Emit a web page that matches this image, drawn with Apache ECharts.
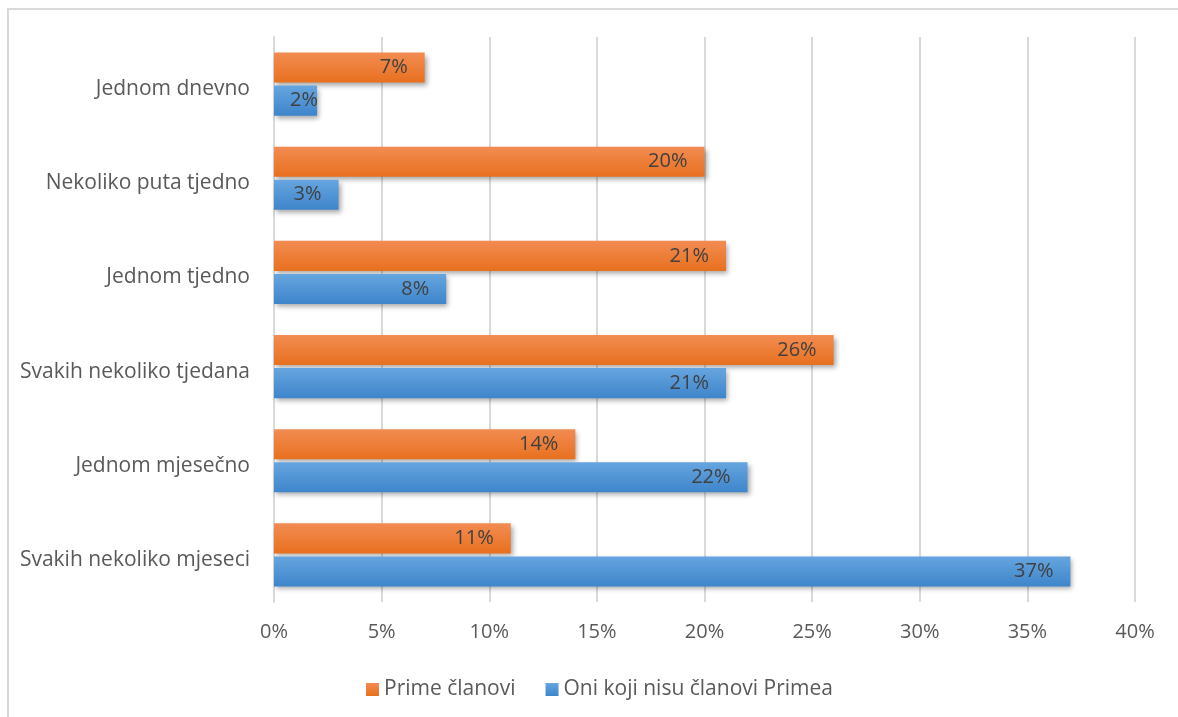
<!DOCTYPE html>
<html>
<head>
<meta charset="utf-8">
<script src="https://cdn.jsdelivr.net/npm/echarts@6/dist/echarts.min.js"></script>
<style>
html,body{margin:0;padding:0;background:#fff;}
#c{width:1178px;height:717px;}
</style>
</head>
<body>
<div id="c"></div>
<script>
const categories = ['Jednom dnevno','Nekoliko puta tjedno','Jednom tjedno','Svakih nekoliko tjedana','Jednom mjesečno','Svakih nekoliko mjeseci'];
const seriesNames = ['Prime članovi','Oni koji nisu članovi Primea'];
const primeValues = [7, 20, 21, 26, 14, 11];
const nonPrimeValues = [2, 3, 8, 21, 22, 37];
const xTicks = [0, 5, 10, 15, 20, 25, 30, 35, 40];

const FONT = '"Open Sans", Lato, sans-serif';
const chart = echarts.init(document.getElementById('c'), null, {renderer:'canvas'});

function grad(top, bottom){
  return new echarts.graphic.LinearGradient(0,0,0,1,[{offset:0,color:top},{offset:1,color:bottom}]);
}
const labelCfg = {
  show:true, position:'insideRight', distance:17,
  formatter: p => p.value + '%',
  color:'#404040', fontSize:20, fontFamily:FONT
};
const shadow = {shadowColor:'rgba(0,0,0,0.35)', shadowBlur:5, shadowOffsetX:2, shadowOffsetY:3};
// short bars: label would not fit at the inside end, keep it inside from the start
const withFit = arr => arr.map(v => v < 3 ? {value:v, label:{position:'insideLeft', distance:16}} : v);

chart.setOption({
  backgroundColor:'#fff',
  animation:false,
  graphic:[{type:'rect', shape:{x:8,y:9,width:1185,height:720}, style:{fill:'none',stroke:'#d9d9d9',lineWidth:2}, silent:true}],
  legend:{
    bottom:12, left:361, itemWidth:13, itemHeight:13, itemGap:30,
    icon:'rect',
    textStyle:{color:'#595959', fontSize:21, fontFamily:FONT},
    data:seriesNames
  },
  grid:{left:274, right:43, top:37, bottom:115, containLabel:false},
  xAxis:{
    type:'value', min:0, max:40, interval:5,
    axisLabel:{formatter:v=>v+'%', color:'#595959', fontSize:20, fontFamily:FONT, margin:20},
    splitLine:{lineStyle:{color:'#d9d9d9', width:2}},
    axisLine:{show:false}, axisTick:{show:false}
  },
  yAxis:{
    type:'category', data:categories, inverse:true,
    axisLabel:{color:'#595959', fontSize:21, fontFamily:FONT, margin:24,
      formatter: v => '{a|' + v + '}',
      rich:{a:{color:'#595959', fontSize:21, fontFamily:FONT, padding:[10,0,0,0]}}},
    axisLine:{lineStyle:{color:'#d9d9d9', width:2}},
    axisTick:{show:false}
  },
  series:[
    {name:seriesNames[0], type:'bar', data:withFit(primeValues), barGap:'10%', barCategoryGap:'33%',
     itemStyle:Object.assign({color:grad('#f28c52','#e8701f')}, shadow), label:labelCfg},
    {name:seriesNames[1], type:'bar', data:withFit(nonPrimeValues),
     itemStyle:Object.assign({color:grad('#66a5df','#3e85cb')}, shadow), label:labelCfg}
  ],
  color:['#ed7d31','#5b9bd5']
});
</script>
</body>
</html>
